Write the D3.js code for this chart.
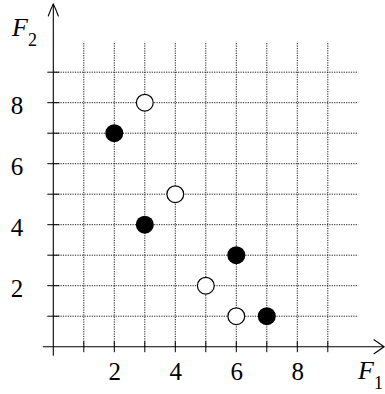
<!DOCTYPE html>
<html>
<head>
<meta charset="utf-8">
<script src="https://cdn.jsdelivr.net/npm/d3@7"></script>
<style>
  html, body { margin: 0; padding: 0; background: #fff; }
  svg { display: block; }
</style>
</head>
<body>
<svg id="chart" width="385" height="394"></svg>
<script>
// Grid and tick positions (integer units on both axes)
const gridX = [1, 2, 3, 4, 5, 6, 7, 8, 9];
const gridY = [1, 2, 3, 4, 5, 6, 7, 8, 9];
const tickLabelsX = [2, 4, 6, 8];
const tickLabelsY = [2, 4, 6, 8];

// Open (hollow) points
const openF1 = [3, 4, 5, 6];
const openF2 = [8, 5, 2, 1];
// Filled points
const filledF1 = [2, 3, 6, 7];
const filledF2 = [7, 4, 3, 1];

const SERIF = "Liberation Serif";

const svg = d3.select("#chart");

const x = d3.scaleLinear().domain([0, 10]).range([53.3, 358.3]);
const y = d3.scaleLinear().domain([0, 10]).range([346.7, 41.7]);

// Dotted grid
const grid = svg.append("g")
  .attr("stroke", "#000")
  .attr("stroke-width", 0.9)
  .attr("stroke-dasharray", "1.2 1.2")
  .attr("fill", "none");

grid.selectAll("line.gx").data(gridX).join("line")
  .attr("class", "gx")
  .attr("x1", d => x(d)).attr("x2", d => x(d))
  .attr("y1", y(0)).attr("y2", y(10));

grid.selectAll("line.gy").data(gridY).join("line")
  .attr("class", "gy")
  .attr("y1", d => y(d)).attr("y2", d => y(d))
  .attr("x1", x(0)).attr("x2", x(10));

// Solid tick marks crossing the axes
const ticks = svg.append("g").attr("stroke", "#000").attr("stroke-width", 1);
ticks.selectAll("line.tx").data(gridX).join("line")
  .attr("class", "tx")
  .attr("x1", d => x(d)).attr("x2", d => x(d))
  .attr("y1", y(0) - 5.5).attr("y2", y(0) + 5.5);
ticks.selectAll("line.ty").data(gridY).join("line")
  .attr("class", "ty")
  .attr("y1", d => y(d)).attr("y2", d => y(d))
  .attr("x1", x(0) - 6).attr("x2", x(0) + 6);

// Axes with arrowheads
const axes = svg.append("g")
  .attr("stroke", "#000").attr("stroke-width", 1.1)
  .attr("fill", "none").attr("stroke-linecap", "round").attr("stroke-linejoin", "round");

const x0 = x(0), y0 = y(0);
axes.append("line").attr("x1", x0 - 10).attr("x2", 384).attr("y1", y0).attr("y2", y0);
axes.append("line").attr("x1", x0).attr("x2", x0).attr("y1", y0 + 8.5).attr("y2", 4);

// Arrowheads: slightly curved open chevrons
axes.append("path")
  .attr("d", `M${384 - 10},${y0 - 7} Q${384 - 4},${y0 - 3} 384,${y0} Q${384 - 4},${y0 + 3} ${384 - 10},${y0 + 7}`);
axes.append("path")
  .attr("d", `M${x0 - 5},${4 + 12} Q${x0 - 2.5},${4 + 5} ${x0},4 Q${x0 + 2.5},${4 + 5} ${x0 + 5},${4 + 12}`);

// Tick labels
const axisX = d3.axisBottom(x).tickValues(tickLabelsX).tickSize(0).tickPadding(16).tickFormat(d3.format("d"));
const axisY = d3.axisLeft(y).tickValues(tickLabelsY).tickSize(0).tickPadding(30).tickFormat(d3.format("d"));

const gx = svg.append("g").attr("transform", `translate(0,${y0})`).call(axisX);
const gy = svg.append("g").attr("transform", `translate(${x0},0)`).call(axisY);
[gx, gy].forEach(g => {
  g.attr("font-family", SERIF).attr("font-size", 25);
  g.select(".domain").remove();
  g.selectAll("text")
    .attr("font-family", SERIF)
    .attr("font-size", 25)
    .attr("fill", "#000");
});
gy.selectAll("text").attr("dy", "0.45em");

// Axis titles F₁ and F₂
function axisTitle(tx, ty, sub) {
  const t = svg.append("text").attr("x", tx).attr("y", ty).attr("font-family", SERIF).attr("fill", "#000");
  t.append("tspan").attr("font-family", SERIF).attr("font-style", "italic").attr("font-size", 26).text("F");
  t.append("tspan").attr("font-family", SERIF).attr("font-size", 18).attr("dx", 0).attr("dy", 10).text(sub);
}
axisTitle(12, 36, "2");
axisTitle(358, 379, "1");

// Points
const pts = svg.append("g");
pts.selectAll("circle.filled").data(filledF1.map((d, i) => [d, filledF2[i]])).join("circle")
  .attr("class", "filled")
  .attr("cx", d => x(d[0])).attr("cy", d => y(d[1]))
  .attr("r", 9)
  .attr("fill", "#000");

pts.selectAll("circle.open").data(openF1.map((d, i) => [d, openF2[i]])).join("circle")
  .attr("class", "open")
  .attr("cx", d => x(d[0])).attr("cy", d => y(d[1]))
  .attr("r", 8.4)
  .attr("fill", "#fff")
  .attr("stroke", "#000")
  .attr("stroke-width", 1.2);
</script>
</body>
</html>
